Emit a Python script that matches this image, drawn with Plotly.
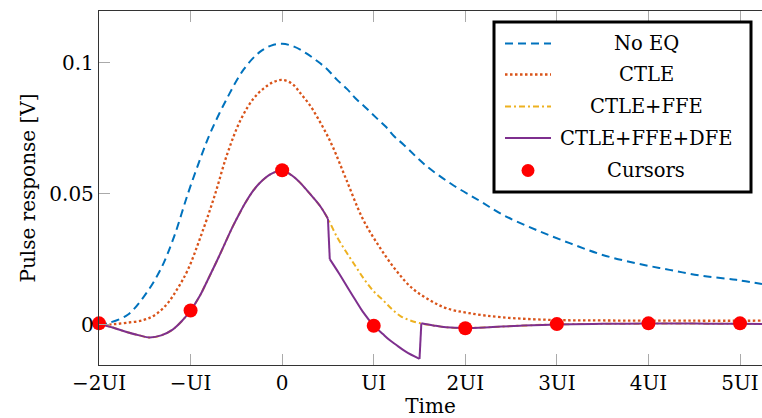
import plotly.graph_objects as go

# ---------------- data (x in UI units, y in volts) ----------------
noeq_x = [-2.0, -1.9, -1.69, -1.51, -1.33, -1.18, -1.03, -0.89, -0.78, -0.60, -0.42, -0.25, -0.12, 0.0,
          0.13, 0.26, 0.39, 0.50, 0.60, 0.71, 0.80, 0.91, 1.02, 1.13, 1.22, 1.33, 1.57, 1.86, 2.15, 2.41,
          2.77, 3.14, 3.50, 3.87, 4.23, 4.59, 4.96, 5.24]
noeq_y = [0.0000, 0.0007, 0.0038, 0.0108, 0.0210, 0.0337, 0.0500, 0.0638, 0.0736, 0.0866, 0.0975, 0.1040, 0.1066,
          0.1073, 0.1062, 0.1037, 0.1005, 0.0973, 0.0935, 0.0900, 0.0865, 0.0830, 0.0793, 0.0757, 0.0721, 0.0687,
          0.0608, 0.0535, 0.0475, 0.0420, 0.0363, 0.0312, 0.0267, 0.0235, 0.0210, 0.0187, 0.0172, 0.0156]

ctle_x = [-2.0, -1.86, -1.7, -1.51, -1.38, -1.25, -1.14, -1.03, -0.89, -0.74, -0.60, -0.45, -0.31, -0.20, -0.10,
          0.0, 0.11, 0.20, 0.30, 0.39, 0.48, 0.56, 0.70, 0.88, 1.06, 1.24, 1.42, 1.61, 1.79, 2.04, 2.40, 2.95,
          3.5, 4.5, 5.24]
ctle_y = [0.0000, 0.0002, 0.0008, 0.0019, 0.0040, 0.0083, 0.0140, 0.0210, 0.0337, 0.0490, 0.0652, 0.0785, 0.0865,
          0.0903, 0.0926, 0.0935, 0.0920, 0.0884, 0.0840, 0.0789, 0.0732, 0.0674, 0.0555, 0.0405, 0.0299, 0.0210,
          0.0140, 0.0095, 0.0064, 0.0045, 0.0029, 0.0019, 0.0017, 0.0016, 0.0016]

ffe_x = [-2.0, -1.85, -1.69, -1.56, -1.45, -1.32, -1.2, -1.1, -1.0, -0.9, -0.83, -0.69, -0.54, -0.45,
         -0.40, -0.31, -0.25, -0.12, 0.0, 0.1, 0.19, 0.26, 0.33, 0.42, 0.5,
         0.6, 0.7, 0.8, 0.9, 1.0, 1.1, 1.2, 1.3, 1.4, 1.5, 1.65, 1.79, 2.0, 2.3, 2.6, 3.0, 3.5, 4.0, 4.5, 5.0, 5.24]
ffe_y = [0.0005, -0.0010, -0.0028, -0.0040, -0.0048, -0.0040, -0.0019, 0.0013, 0.0055, 0.0110, 0.0159, 0.0261,
         0.0375, 0.0436, 0.0467, 0.0515, 0.0540, 0.0576, 0.0589, 0.0572, 0.0545, 0.0518, 0.0490,
         0.0451, 0.0405, 0.0335, 0.0278, 0.0225, 0.0172, 0.0128, 0.0095, 0.0060, 0.0032, 0.0017, 0.0007,
         -0.0002, -0.0009, -0.0012, -0.0008, -0.0003, 0.0002, 0.0004, 0.0005, 0.0005, 0.0004, 0.0003]

dfe_x = [-2.0, -1.85, -1.69, -1.56, -1.45, -1.32, -1.2, -1.1, -1.0, -0.9, -0.83, -0.69, -0.54, -0.45,
         -0.40, -0.31, -0.25, -0.12, 0.0, 0.1, 0.19, 0.26, 0.33, 0.42, 0.5,
         0.52, 0.62, 0.73, 0.8, 0.88, 1.0, 1.1, 1.17, 1.24, 1.35, 1.5,
         1.52, 1.65, 1.79, 2.0, 2.3, 2.6, 3.0, 3.5, 4.0, 4.5, 5.0, 5.24]
dfe_y = [0.0005, -0.0010, -0.0028, -0.0040, -0.0048, -0.0040, -0.0019, 0.0013, 0.0055, 0.0110, 0.0159, 0.0261,
         0.0375, 0.0436, 0.0467, 0.0515, 0.0540, 0.0576, 0.0589, 0.0572, 0.0545, 0.0518, 0.0490,
         0.0451, 0.0405,
         0.0251, 0.0197, 0.0134, 0.0095, 0.0051, -0.0002, -0.0035, -0.0057, -0.0075, -0.0102, -0.0130,
         0.0006, -0.0002, -0.0009, -0.0012, -0.0008, -0.0003, 0.0002, 0.0004, 0.0005, 0.0005, 0.0004, 0.0003]

cursor_x = [-2, -1, 0, 1, 2, 3, 4, 5]
cursor_y = [0.0006, 0.0055, 0.0590, -0.0003, -0.0013, 0.0003, 0.0006, 0.0006]

tick_vals = [-2, -1, 0, 1, 2, 3, 4, 5]
tick_text = ["\u22122UI", "\u2212UI", "0", "UI", "2UI", "3UI", "4UI", "5UI"]
ytick_vals = [0, 0.05, 0.1]
ytick_text = ["0", "0.05", "0.1"]

series_names = ["No EQ", "CTLE", "CTLE+FFE", "CTLE+FFE+DFE", "Cursors"]
colors = ["#0072BD", "#D95319", "#EDB120", "#7E2F8E", "#FF0000"]
dashes = ["8px,5px", "2.5px,2.5px", "6px,3px,2px,3px", "solid"]

FONT = "DejaVu Serif"

fig = go.Figure()
fig.add_trace(go.Scatter(x=noeq_x, y=noeq_y, mode="lines", name=series_names[0], line_shape="spline",
                         line=dict(color=colors[0], width=2, dash=dashes[0])))
fig.add_trace(go.Scatter(x=ctle_x, y=ctle_y, mode="lines", name=series_names[1], line_shape="spline",
                         line=dict(color=colors[1], width=2.3, dash=dashes[1])))
fig.add_trace(go.Scatter(x=ffe_x, y=ffe_y, mode="lines", name=series_names[2], line_shape="spline",
                         line=dict(color=colors[2], width=2, dash=dashes[2])))

# DFE curve: smooth pieces (spline) joined by straight decision-feedback jumps
breaks = [i for i in range(1, len(dfe_x)) if dfe_x[i] - dfe_x[i - 1] < 0.03]
starts = [0] + breaks
ends = breaks + [len(dfe_x)]
for k, (s, e) in enumerate(zip(starts, ends)):
    fig.add_trace(go.Scatter(x=dfe_x[s:e], y=dfe_y[s:e], mode="lines", name=series_names[3],
                             legendgroup="dfe", showlegend=(k == 0), line_shape="spline",
                             line=dict(color=colors[3], width=2)))
for b in breaks:
    fig.add_trace(go.Scatter(x=dfe_x[b - 1:b + 1], y=dfe_y[b - 1:b + 1], mode="lines", name=series_names[3],
                             legendgroup="dfe", showlegend=False, line=dict(color=colors[3], width=2)))

fig.add_trace(go.Scatter(x=cursor_x, y=cursor_y, mode="markers", name=series_names[4],
                         marker=dict(color=colors[4], size=14), cliponaxis=False))

# ---------------- manual legend (centered text, like the reference) ----------------
L, R, T, B = 99, 762, 11, 365
W, H = R - L, B - T


def px(xp):
    return (xp - L) / W


def py(yp):
    return (B - yp) / H


shapes = [dict(type="rect", xref="paper", yref="paper", x0=px(494), x1=px(751), y0=py(192), y1=py(22),
               line=dict(color="black", width=3), fillcolor="white", layer="above")]
annotations = []
row_y = [43.5, 74.5, 106.5, 138, 170.5]
for i, name in enumerate(series_names):
    yy = py(row_y[i])
    if i < 4:
        shapes.append(dict(type="line", xref="paper", yref="paper", x0=px(505), x1=px(551), y0=yy, y1=yy,
                           line=dict(color=colors[i], width=2.3 if i == 1 else 2, dash=dashes[i]), layer="above"))
    else:
        shapes.append(dict(type="circle", xref="paper", yref="paper", xsizemode="pixel", ysizemode="pixel",
                           xanchor=px(528), yanchor=yy, x0=-6.5, x1=6.5, y0=-6.5, y1=6.5,
                           fillcolor=colors[4], line=dict(color=colors[4], width=0), layer="above"))
    annotations.append(dict(xref="paper", yref="paper", x=px(646), y=yy, text=name, showarrow=False,
                            xanchor="center", yanchor="middle", font=dict(family=FONT, size=19.5, color="black")))

fig.update_layout(
    width=762, height=418,
    margin=dict(l=L, r=762 - R, t=T, b=418 - B),
    paper_bgcolor="white", plot_bgcolor="white",
    showlegend=False,
    font=dict(family=FONT, size=20, color="black"),
    shapes=shapes, annotations=annotations,
)
fig.update_xaxes(
    range=[-2, 5.24], tickvals=tick_vals, ticktext=tick_text,
    showgrid=False, zeroline=False,
    showline=True, linecolor="#333333", linewidth=1.3, mirror="ticks",
    ticks="inside", ticklen=11, tickcolor="#aaaaaa", tickwidth=1.3,
    tickfont=dict(family=FONT, size=20, color="black"),
    title=dict(text="Time", font=dict(family=FONT, size=20, color="black"), standoff=2),
)
fig.update_yaxes(
    range=[-0.0153, 0.1198], tickvals=ytick_vals, ticktext=ytick_text,
    showgrid=False, zeroline=False,
    showline=True, linecolor="#333333", linewidth=1.3, mirror=False,
    ticks="inside", ticklen=11, tickcolor="#aaaaaa", tickwidth=1.3,
    tickfont=dict(family=FONT, size=20, color="black"),
    title=dict(text="Pulse response [V]", font=dict(family=FONT, size=20, color="black"), standoff=8),
)

fig.write_html("out.html")
